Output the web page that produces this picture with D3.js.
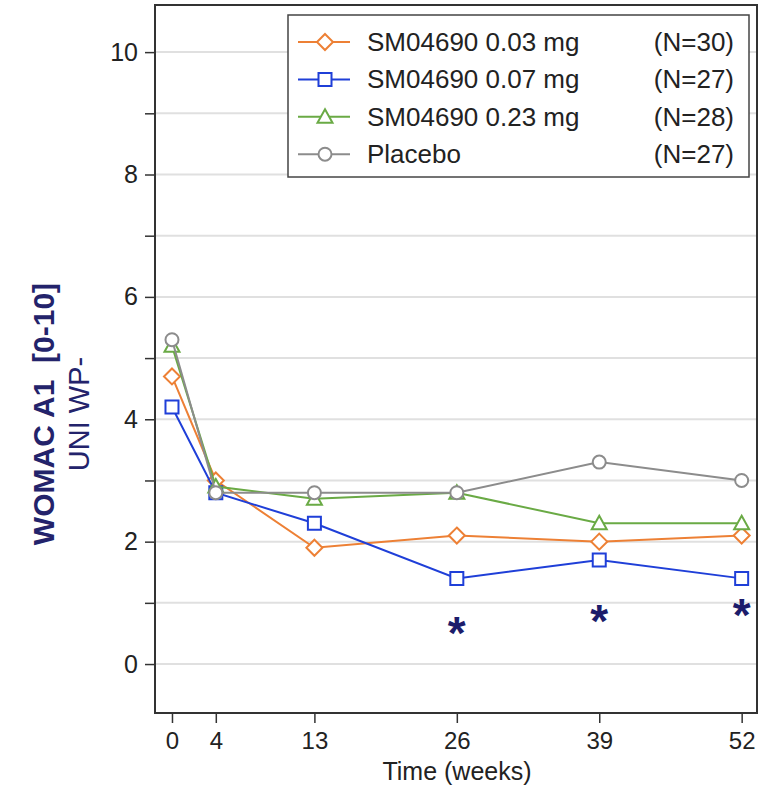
<!DOCTYPE html>
<html>
<head>
<meta charset="utf-8">
<script src="https://cdn.jsdelivr.net/npm/d3@7"></script>
<style>
  body { margin: 0; background: #fff; }
  svg { font-family: "Liberation Sans", Arial, sans-serif; }
</style>
</head>
<body>
<div id="vis1"></div>
<script>
const FRAME_WIDTH = 782;
const FRAME_HEIGHT = 788;
const PLOT = {left: 155, right: 757, top: 5, bottom: 713};

// data
const weeks = [0, 4, 13, 26, 39, 52];
const dose003 = [4.7, 3.0, 1.9, 2.1, 2.0, 2.1];
const dose007 = [4.2, 2.8, 2.3, 1.4, 1.7, 1.4];
const dose023 = [5.2, 2.9, 2.7, 2.8, 2.3, 2.3];
const placebo = [5.3, 2.8, 2.8, 2.8, 3.3, 3.0];
const seriesNames = ["SM04690 0.03 mg", "SM04690 0.07 mg", "SM04690 0.23 mg", "Placebo"];
const seriesN = ["(N=30)", "(N=27)", "(N=28)", "(N=27)"];
const yTicks = [0, 1, 2, 3, 4, 5, 6, 7, 8, 9, 10];
const yLabels = [0, 2, 4, 6, 8, 10];
// significance stars (week, y position)
const starWeeks = [26, 39, 52];
const starY = [0.67, 0.86, 0.97];

const colors = ["#ED8035", "#1F3FD8", "#6AAA45", "#8C8C8C"];
const shapes = ["diamond", "square", "triangle", "circle"];
const allSeries = [dose003, dose007, dose023, placebo];

const svg = d3.select("#vis1")
  .append("svg")
  .attr("width", FRAME_WIDTH)
  .attr("height", FRAME_HEIGHT);

const X = d3.scaleLinear().domain([-1.55, 53.4]).range([PLOT.left, PLOT.right]);
const Y = d3.scaleLinear().domain([-0.8, 10.77]).range([PLOT.bottom, PLOT.top]);

// gridlines
svg.append("g")
  .selectAll("line")
  .data(yTicks)
  .enter().append("line")
  .attr("x1", PLOT.left).attr("x2", PLOT.right)
  .attr("y1", d => Y(d)).attr("y2", d => Y(d))
  .attr("stroke", "#e0e0e0")
  .attr("stroke-width", 2);

// y axis
const yAxis = svg.append("g")
  .attr("transform", "translate(" + PLOT.left + ",0)")
  .call(d3.axisLeft(Y).tickValues(yTicks).tickSize(10).tickSizeOuter(0)
    .tickFormat(d => yLabels.includes(d) ? d : ""));
yAxis.select(".domain").remove();
yAxis.selectAll(".tick line").attr("stroke", "#333").attr("stroke-width", 1.5);
yAxis.selectAll(".tick text")
  .attr("font-size", 25).attr("fill", "#222").attr("x", -17)
  .attr("font-family", "Liberation Sans, Arial, sans-serif");

// x axis
const xAxis = svg.append("g")
  .attr("transform", "translate(0," + PLOT.bottom + ")")
  .call(d3.axisBottom(X).tickValues(weeks).tickSize(10).tickSizeOuter(0));
xAxis.select(".domain").remove();
xAxis.selectAll(".tick line").attr("stroke", "#333").attr("stroke-width", 1.5);
xAxis.selectAll(".tick text")
  .attr("font-size", 24).attr("fill", "#222").attr("y", 19)
  .attr("font-family", "Liberation Sans, Arial, sans-serif");

// plot frame
svg.append("rect")
  .attr("x", PLOT.left).attr("y", PLOT.top)
  .attr("width", PLOT.right - PLOT.left)
  .attr("height", PLOT.bottom - PLOT.top)
  .attr("fill", "none")
  .attr("stroke", "#333")
  .attr("stroke-width", 2);

// marker paths
function markerPath(shape) {
  if (shape === "diamond") return "M0,-8L8,0L0,8L-8,0Z";
  if (shape === "square") return "M-6.5,-6.5H6.5V6.5H-6.5Z";
  if (shape === "triangle") return "M0,-7.5L7.5,6L-7.5,6Z";
  return d3.arc()({innerRadius: 0, outerRadius: 6.5, startAngle: 0, endAngle: 2 * Math.PI});
}

const line = d3.line()
  .x((d, i) => X(weeks[i]))
  .y(d => Y(d));

allSeries.forEach((vals, s) => {
  const g = svg.append("g");
  g.append("path")
    .attr("d", line(vals))
    .attr("fill", "none")
    .attr("stroke", colors[s])
    .attr("stroke-width", 2);
  g.selectAll("path.pt")
    .data(vals)
    .enter().append("path")
    .attr("class", "pt")
    .attr("d", markerPath(shapes[s]))
    .attr("transform", (d, i) => "translate(" + X(weeks[i]) + "," + Y(d) + ")")
    .attr("fill", "#fff")
    .attr("stroke", colors[s])
    .attr("stroke-width", 2);
});

// stars
svg.selectAll("text.star")
  .data(starWeeks)
  .enter().append("text")
  .attr("class", "star")
  .attr("x", d => X(d))
  .attr("y", (d, i) => Y(starY[i]) + 26)
  .attr("text-anchor", "middle")
  .attr("font-size", 46)
  .attr("font-weight", "bold")
  .attr("fill", "#1C1C6B")
  .text("*");

// legend
const LEG = {x: 288, y: 15, w: 461, h: 162, row: 37.4, first: 42};
svg.append("rect")
  .attr("x", LEG.x).attr("y", LEG.y)
  .attr("width", LEG.w).attr("height", LEG.h)
  .attr("fill", "#fff")
  .attr("stroke", "#444")
  .attr("stroke-width", 1.5);

seriesNames.forEach((name, s) => {
  const cy = LEG.first + s * LEG.row;
  svg.append("line")
    .attr("x1", 298).attr("x2", 350)
    .attr("y1", cy).attr("y2", cy)
    .attr("stroke", colors[s]).attr("stroke-width", 2);
  svg.append("path")
    .attr("d", markerPath(shapes[s]))
    .attr("transform", "translate(325," + cy + ")")
    .attr("fill", "#fff")
    .attr("stroke", colors[s])
    .attr("stroke-width", 2);
  svg.append("text")
    .attr("x", 367).attr("y", cy + 9)
    .attr("font-size", 26).attr("fill", "#222")
    .text(name);
  svg.append("text")
    .attr("x", 734).attr("y", cy + 9)
    .attr("text-anchor", "end")
    .attr("font-size", 26).attr("fill", "#222")
    .text(seriesN[s]);
});

// axis titles
svg.append("text")
  .attr("x", (PLOT.left + PLOT.right) / 2 + 1)
  .attr("y", 780)
  .attr("text-anchor", "middle")
  .attr("font-size", 25).attr("fill", "#222")
  .text("Time (weeks)");

svg.append("text")
  .attr("transform", "translate(54,414) rotate(-90)")
  .attr("text-anchor", "middle")
  .attr("font-size", 30).attr("font-weight", "bold")
  .attr("fill", "#23236B")
  .attr("xml:space", "preserve")
  .style("white-space", "pre")
  .text("WOMAC A1  [0-10]");

svg.append("text")
  .attr("transform", "translate(89,414) rotate(-90)")
  .attr("text-anchor", "middle")
  .attr("font-size", 29)
  .attr("fill", "#23236B")
  .text("UNI WP-");
</script>
</body>
</html>
